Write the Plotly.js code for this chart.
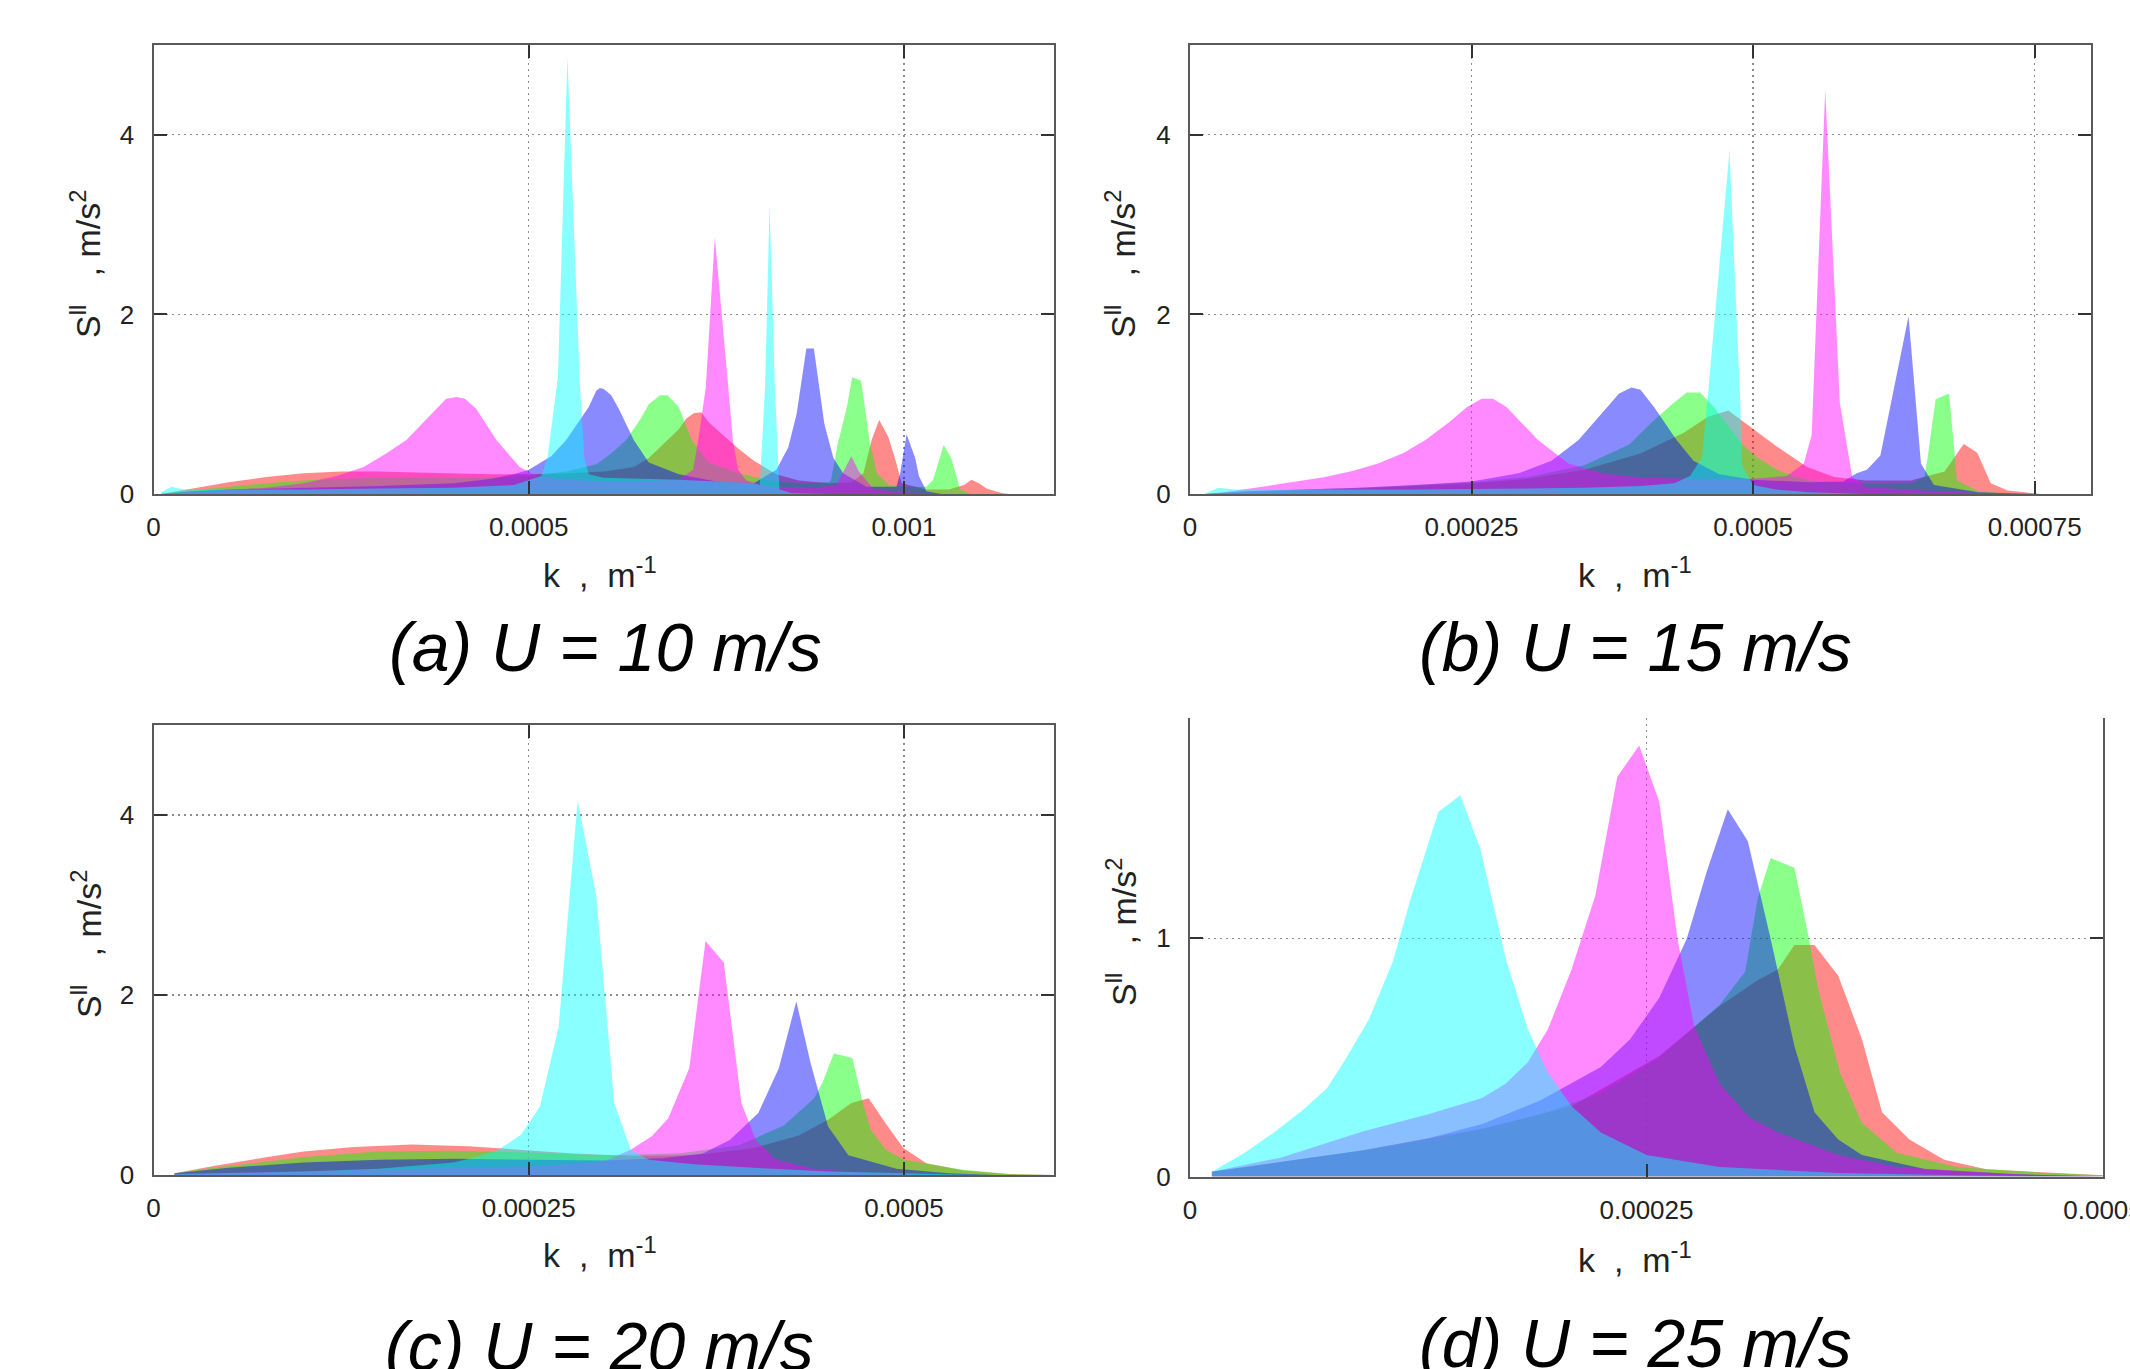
<!DOCTYPE html>
<html><head><meta charset="utf-8">
<script src="https://cdn.plot.ly/plotly-3.0.1.min.js"></script>
<style>html,body{margin:0;padding:0;background:#fff}#chart{width:2130px;height:1369px}</style>
</head><body><div id="chart"></div>
<script>
// ---------------- Panel (a): U = 10 m/s ----------------
const kA_red = [0.00001,0.00005,0.0001,0.00015,0.0002,0.00025,0.0003,0.00035,0.0004,0.00045,0.0005,0.00055,0.0006,0.00064,0.00066,0.00068,0.0007,0.00071,0.00072,0.00073,0.00074,0.00076,0.00078,0.0008,0.00083,0.00086,0.0009,0.00093,0.000946,0.000957,0.000967,0.000979,0.000988,0.000997,0.00103,0.00106,0.00108,0.00109,0.0011,0.00111,0.00113,0.00114];
const sA_red = [0,0.06,0.13,0.19,0.23,0.25,0.25,0.24,0.23,0.22,0.22,0.23,0.25,0.3,0.4,0.56,0.72,0.84,0.9,0.91,0.8,0.65,0.5,0.37,0.22,0.15,0.12,0.13,0.23,0.6,0.825,0.64,0.4,0.12,0.05,0.05,0.1,0.16,0.12,0.06,0.01,0];
const kA_green = [0.00001,0.00005,0.0001,0.00015,0.0002,0.00025,0.0003,0.00035,0.0004,0.00045,0.0005,0.00055,0.00059,0.00061,0.00063,0.00065,0.00066,0.000675,0.000685,0.0007,0.000717,0.00074,0.00078,0.00082,0.00086,0.0009,0.000903,0.000911,0.000924,0.000931,0.000943,0.000948,0.000954,0.000964,0.00098,0.001,0.00103,0.001039,0.001053,0.001063,0.001075,0.00109];
const sA_green = [0,0.04,0.08,0.12,0.15,0.17,0.18,0.18,0.18,0.18,0.2,0.25,0.33,0.45,0.6,0.85,1.0,1.1,1.1,0.97,0.6,0.35,0.23,0.15,0.12,0.13,0.16,0.53,0.97,1.3,1.26,0.97,0.6,0.23,0.1,0.08,0.08,0.16,0.546,0.4,0.05,0];
const kA_blue = [0.00001,0.00005,0.0001,0.0002,0.0003,0.0004,0.00045,0.00048,0.0005,0.00053,0.00055,0.00058,0.00059,0.000595,0.0006,0.00061,0.00062,0.00064,0.00066,0.0007,0.00075,0.0008,0.00083,0.000846,0.000857,0.00087,0.00088,0.000894,0.000906,0.000919,0.00095,0.00099,0.000995,0.0010036,0.001015,0.00102,0.00103,0.00105];
const sA_blue = [0,0.03,0.05,0.07,0.09,0.12,0.17,0.22,0.27,0.42,0.6,0.97,1.15,1.18,1.17,1.1,0.95,0.6,0.35,0.22,0.14,0.12,0.27,0.52,0.89,1.62,1.62,0.78,0.4,0.23,0.08,0.08,0.23,0.665,0.4,0.2,0.03,0];
const kA_magenta = [0.00001,0.00005,0.0001,0.00015,0.0002,0.000244,0.00028,0.00031,0.000337,0.00036,0.00038,0.00039,0.000404,0.000415,0.00043,0.000457,0.000488,0.00051,0.00055,0.0006,0.00065,0.0007,0.000719,0.000726,0.000736,0.000748,0.000766,0.000772,0.000779,0.00079,0.00082,0.00088,0.00091,0.00093,0.00094,0.00096,0.001,0.00105];
const sA_magenta = [0,0.02,0.04,0.07,0.12,0.2,0.3,0.45,0.6,0.8,0.97,1.06,1.08,1.06,0.95,0.6,0.3,0.2,0.16,0.14,0.14,0.16,0.27,0.6,1.19,2.86,1.19,0.6,0.27,0.15,0.08,0.07,0.1,0.42,0.25,0.05,0.02,0];
const kA_cyan = [0.00001,0.000024,0.00004,0.0001,0.0002,0.0003,0.0004,0.00048,0.0005,0.000517,0.000525,0.000539,0.0005516,0.000568,0.000574,0.00058,0.0006,0.00065,0.0007,0.00075,0.0008,0.000808,0.000815,0.000821,0.000828,0.000834,0.00085,0.0009];
const sA_cyan = [0.02,0.08,0.05,0.05,0.05,0.06,0.07,0.1,0.15,0.2,0.4,1.31,4.87,1.25,0.4,0.22,0.18,0.17,0.16,0.14,0.12,0.1,1.2,3.22,1.2,0.05,0.01,0];

// ---------------- Panel (b): U = 15 m/s ----------------
const kB_red = [0.000013,0.00005,0.0001,0.00015,0.0002,0.00025,0.0003,0.00035,0.0004,0.000438,0.00046,0.000478,0.000492,0.000521,0.000548,0.000572,0.0006,0.00064,0.00067,0.000678,0.000687,0.000699,0.000711,0.000726,0.000755];
const sB_red = [0,0.02,0.04,0.06,0.09,0.12,0.17,0.27,0.45,0.68,0.86,0.93,0.8,0.53,0.3,0.19,0.15,0.15,0.25,0.4,0.557,0.46,0.12,0.04,0];
const kB_green = [0.000013,0.00005,0.0001,0.00015,0.0002,0.00025,0.0003,0.00035,0.00039,0.00041,0.000428,0.000441,0.000453,0.000465,0.00048,0.00049,0.000503,0.000524,0.00055,0.0006,0.00064,0.000652,0.000655,0.000662,0.000674,0.000681,0.0007,0.00073];
const sB_green = [0,0.03,0.05,0.07,0.1,0.13,0.19,0.32,0.55,0.8,1.0,1.13,1.13,0.97,0.72,0.56,0.41,0.25,0.15,0.11,0.12,0.19,0.41,1.056,1.12,0.15,0.03,0];
const kB_blue = [0.000013,0.00005,0.0001,0.00015,0.0002,0.00025,0.000292,0.000321,0.000345,0.000366,0.000381,0.000392,0.0004,0.000412,0.000432,0.000447,0.00047,0.0005,0.00055,0.00058,0.000592,0.000601,0.000613,0.000638,0.000643,0.000649,0.0006605,0.0007,0.00075];
const sB_blue = [0,0.03,0.05,0.07,0.1,0.14,0.23,0.37,0.6,0.9,1.12,1.185,1.16,0.97,0.6,0.37,0.22,0.16,0.13,0.14,0.23,0.27,0.43,1.98,1.19,0.34,0.1,0.02,0];
const kB_magenta = [0.000013,0.00003,0.000064,0.00009,0.00012,0.000145,0.000167,0.00019,0.000209,0.00023,0.000246,0.000259,0.000269,0.000281,0.000295,0.000309,0.000336,0.000366,0.0004,0.00045,0.0005,0.00053,0.000545,0.000552,0.000564,0.000577,0.000588,0.0006,0.00065,0.0007,0.00075];
const sB_magenta = [0,0.02,0.08,0.13,0.19,0.26,0.34,0.46,0.6,0.8,0.97,1.06,1.06,0.97,0.78,0.6,0.34,0.23,0.18,0.17,0.17,0.2,0.34,0.66,4.5,1.01,0.19,0.08,0.04,0.01,0];
const kB_cyan = [0.000013,0.000025,0.00004,0.0001,0.0002,0.0003,0.00035,0.0004,0.00043,0.000444,0.0004546,0.00046,0.000479,0.0004886,0.00049,0.0005,0.00052,0.00055,0.0006];
const sB_cyan = [0,0.07,0.05,0.05,0.05,0.06,0.07,0.09,0.12,0.2,0.41,1.12,3.82,1.01,0.32,0.1,0.05,0.02,0];

// ---------------- Panel (c): U = 20 m/s ----------------
const kC_red = [0.000014,0.00004,0.000076,0.0001,0.0001335,0.000172,0.00021,0.000249,0.00028,0.00032,0.00036,0.0004,0.00043,0.00045,0.000465,0.0004765,0.000488,0.0004996,0.000515,0.00054,0.00057,0.0006];
const sC_red = [0.02,0.1,0.2,0.26,0.31,0.34,0.32,0.28,0.24,0.21,0.22,0.3,0.44,0.62,0.8,0.854,0.57,0.3,0.13,0.05,0.01,0];
const kC_green = [0.000014,0.00004,0.000076,0.0001,0.00015,0.0002,0.00025,0.0003,0.00035,0.00039,0.00042,0.00044,0.0004456,0.0004533,0.0004657,0.0004726,0.000478,0.000488,0.0005,0.000538,0.00057,0.0006];
const sC_green = [0.02,0.08,0.15,0.2,0.26,0.27,0.25,0.22,0.24,0.33,0.55,0.85,1.02,1.35,1.30,0.8,0.5,0.28,0.17,0.06,0.01,0];
const kC_blue = [0.000014,0.00005,0.0001,0.00015,0.0002,0.00025,0.0003,0.00034,0.000366,0.000384,0.000403,0.0004167,0.0004283,0.0004379,0.0004495,0.000463,0.000495,0.00053,0.00056];
const sC_blue = [0.02,0.08,0.14,0.17,0.18,0.17,0.16,0.19,0.24,0.39,0.69,1.19,1.93,1.24,0.54,0.22,0.07,0.02,0];
const kC_magenta = [0.000014,0.0001,0.0002,0.00026,0.0003,0.000318,0.000332,0.000343,0.000357,0.0003678,0.00038,0.0003917,0.0004013,0.0004148,0.00044,0.00048,0.00052];
const sC_magenta = [0.01,0.04,0.08,0.1,0.15,0.28,0.43,0.63,1.19,2.60,2.36,0.80,0.39,0.17,0.07,0.02,0];
const kC_cyan = [0.000014,0.0001,0.00015,0.0002,0.000215,0.00023,0.000245,0.0002575,0.00027,0.0002826,0.000295,0.000307,0.000318,0.00033,0.00036,0.0004,0.00045,0.0005,0.00055];
const sC_cyan = [0.01,0.04,0.07,0.14,0.2,0.28,0.45,0.76,1.65,4.16,3.10,0.80,0.28,0.17,0.12,0.08,0.04,0.02,0];

// ---------------- Panel (d): U = 25 m/s ----------------
const kD_red = [0.000012,0.00005,0.000095,0.00013,0.00016,0.000209,0.000257,0.00029,0.00031,0.000322,0.000331,0.000342,0.000355,0.000368,0.000379,0.000394,0.000413,0.000436,0.000484,0.0005];
const sD_red = [0.02,0.06,0.11,0.16,0.2,0.295,0.506,0.716,0.82,0.87,0.972,0.972,0.843,0.576,0.27,0.155,0.07,0.03,0.01,0.005];
const kD_green = [0.000012,0.00005,0.000095,0.00013,0.00016,0.000192,0.000225,0.000257,0.00029,0.000304,0.000311,0.000318,0.000331,0.000339,0.000344,0.000356,0.000368,0.000387,0.00042,0.000468,0.0005];
const sD_green = [0.02,0.06,0.11,0.15,0.2,0.26,0.35,0.5,0.72,0.86,1.17,1.337,1.296,0.997,0.787,0.435,0.225,0.1,0.04,0.015,0.005];
const kD_blue = [0.000012,0.00005,0.000095,0.00013,0.00016,0.000192,0.000225,0.000241,0.000257,0.000272,0.000283,0.0002945,0.0003055,0.000318,0.000331,0.000342,0.000355,0.000368,0.000403,0.00045,0.0005];
const sD_blue = [0.02,0.06,0.11,0.16,0.22,0.32,0.46,0.576,0.75,0.997,1.28,1.542,1.407,0.997,0.548,0.27,0.155,0.09,0.03,0.01,0];
const kD_magenta = [0.000012,0.00005,0.000095,0.00013,0.00016,0.000173,0.000185,0.000196,0.000209,0.000222,0.000234,0.000246,0.000257,0.000267,0.000276,0.00029,0.000306,0.000322,0.000355,0.000387,0.00045,0.0005];
const sD_magenta = [0.02,0.08,0.19,0.26,0.33,0.39,0.48,0.618,0.87,1.18,1.678,1.809,1.573,0.997,0.633,0.39,0.25,0.185,0.09,0.04,0.01,0];
const kD_cyan = [0.000012,0.00003,0.000046,0.000062,0.000075,0.000085,0.000098,0.000111,0.000121,0.000136,0.000148,0.000159,0.000173,0.000185,0.000196,0.000209,0.000225,0.00025,0.00029,0.000355,0.00042,0.0005];
const sD_cyan = [0.02,0.1,0.185,0.28,0.37,0.49,0.66,0.9,1.17,1.53,1.60,1.376,0.913,0.618,0.435,0.295,0.185,0.09,0.04,0.015,0.005,0];

// tick values / labels
const xTicksA = [0, 0.0005, 0.001], xLabelsA = ['0', '0.0005', '0.001'];
const xTicksB = [0, 0.00025, 0.0005, 0.00075], xLabelsB = ['0', '0.00025', '0.0005', '0.00075'];
const xTicksC = [0, 0.00025, 0.0005], xLabelsC = ['0', '0.00025', '0.0005'];
const xTicksD = [0, 0.00025, 0.0005], xLabelsD = ['0', '0.00025', '0.0005'];
const yTicksABC = [0, 2, 4], yLabelsABC = ['0', '2', '4'];
const yTicksD = [0, 1], yLabelsD = ['0', '1'];
const panelTitles = ['(a) U = 10 m/s', '(b) U = 15 m/s', '(c) U = 20 m/s', '(d) U = 25 m/s'];

const FILLS = {
  red: 'rgba(255,0,0,0.46)', green: 'rgba(0,255,0,0.46)', blue: 'rgba(0,0,255,0.46)',
  magenta: 'rgba(255,0,255,0.46)', cyan: 'rgba(0,255,255,0.46)'
};
const ORDER = ['red', 'green', 'blue', 'magenta', 'cyan'];
const panels = [
  {ax: '', k: {red: kA_red, green: kA_green, blue: kA_blue, magenta: kA_magenta, cyan: kA_cyan},
          s: {red: sA_red, green: sA_green, blue: sA_blue, magenta: sA_magenta, cyan: sA_cyan}},
  {ax: '2', k: {red: kB_red, green: kB_green, blue: kB_blue, magenta: kB_magenta, cyan: kB_cyan},
          s: {red: sB_red, green: sB_green, blue: sB_blue, magenta: sB_magenta, cyan: sB_cyan}},
  {ax: '3', k: {red: kC_red, green: kC_green, blue: kC_blue, magenta: kC_magenta, cyan: kC_cyan},
          s: {red: sC_red, green: sC_green, blue: sC_blue, magenta: sC_magenta, cyan: sC_cyan}},
  {ax: '4', k: {red: kD_red, green: kD_green, blue: kD_blue, magenta: kD_magenta, cyan: kD_cyan},
          s: {red: sD_red, green: sD_green, blue: sD_blue, magenta: sD_magenta, cyan: sD_cyan}}
];

const traces = [];
panels.forEach(p => {
  ORDER.forEach(c => {
    traces.push({
      type: 'scatter', mode: 'lines', x: p.k[c], y: p.s[c],
      xaxis: 'x' + p.ax, yaxis: 'y' + p.ax,
      fill: 'tozeroy', fillcolor: FILLS[c],
      line: {width: 0, color: FILLS[c]}, hoverinfo: 'skip', showlegend: false
    });
  });
});

const W = 2130, H = 1369;
const px = v => v / W, py = v => 1 - v / H;
const tickFont = {family: 'Liberation Sans, Arial, sans-serif', size: 26, color: '#222'};

function xAxis(domain, range, tv, tt, anchor, mirror) {
  return {domain, range, anchor, tickmode: 'array', tickvals: tv, ticktext: tt,
    showgrid: true, gridcolor: '#8c8c8c', gridwidth: 1.3, griddash: '2px,4px',
    showline: true, linecolor: '#5a5a5a', linewidth: 2, mirror,
    ticks: 'inside', ticklen: 13, tickwidth: 2, tickcolor: '#333',
    zeroline: false, tickfont: tickFont, ticklabelstandoff: 9,
    ticklabeloverflow: 'allow', fixedrange: true};
}
function yAxis(domain, range, tv, tt, anchor) {
  return {domain, range, anchor, tickmode: 'array', tickvals: tv, ticktext: tt,
    showgrid: true, gridcolor: '#8c8c8c', gridwidth: 1.3, griddash: '2px,4px',
    showline: true, linecolor: '#5a5a5a', linewidth: 2, mirror: 'ticks',
    ticks: 'inside', ticklen: 13, tickwidth: 2, tickcolor: '#333',
    zeroline: false, tickfont: tickFont, ticklabelstandoff: 12,
    ticklabeloverflow: 'allow', fixedrange: true};
}

const dxL = [px(153.5), px(1054)], dxR = [px(1190), px(2091)], dxR4 = [px(1190), px(2103)];
const dyT = [py(494), py(45)], dyB = [py(1175), py(725)], dyB4 = [py(1176.5), py(718.4)];

const NB = '\u00a0';
const xTitle = 'k' + NB + NB + ',' + NB + NB + 'm<sup>-1</sup>';
const yTitle = 'S<sup>ll</sup>' + NB + NB + NB + ',' + NB + 'm/s<sup>2</sup>';
const labFont = {family: 'Liberation Sans, Arial, sans-serif', size: 34, color: '#222'};
const titleFont = {family: 'Liberation Sans, Arial, sans-serif', size: 68, color: '#000'};

function ann(text, x, y, font, angle) {
  return {text, x: px(x), y: py(y), xref: 'paper', yref: 'paper', showarrow: false,
    xanchor: 'center', yanchor: 'middle', font, textangle: angle || 0};
}

const annotations = [
  ann(xTitle, 600, 572, labFont), ann(xTitle, 1635, 572, labFont),
  ann(xTitle, 600, 1252, labFont), ann(xTitle, 1635, 1257, labFont),
  ann(yTitle, 86, 264, labFont, -90), ann(yTitle, 1121, 264, labFont, -90),
  ann(yTitle, 86, 944, labFont, -90), ann(yTitle, 1121, 932, labFont, -90),
  ann('<i>' + panelTitles[0] + '</i>', 605, 647, titleFont),
  ann('<i>' + panelTitles[1] + '</i>', 1635, 647, titleFont),
  ann('<i>' + panelTitles[2] + '</i>', 599, 1346, titleFont),
  ann('<i>' + panelTitles[3] + '</i>', 1635, 1343, titleFont)
];

const layout = {
  width: W, height: H, margin: {l: 0, r: 0, t: 0, b: 0},
  paper_bgcolor: '#fff', plot_bgcolor: '#fff', showlegend: false,
  xaxis: xAxis(dxL, [0, 0.0012], xTicksA, xLabelsA, 'y', 'ticks'),
  yaxis: yAxis(dyT, [0, 5], yTicksABC, yLabelsABC, 'x'),
  xaxis2: xAxis(dxR, [0, 0.0008], xTicksB, xLabelsB, 'y2', 'ticks'),
  yaxis2: yAxis(dyT, [0, 5], yTicksABC, yLabelsABC, 'x2'),
  xaxis3: xAxis(dxL, [0, 0.0006], xTicksC, xLabelsC, 'y3', 'ticks'),
  yaxis3: yAxis(dyB, [0, 5], yTicksABC, yLabelsABC, 'x3'),
  xaxis4: xAxis(dxR4, [0, 0.0005], xTicksD, xLabelsD, 'y4', false),
  yaxis4: yAxis(dyB4, [0, 1.923], yTicksD, yLabelsD, 'x4'),
  annotations
};

Plotly.newPlot('chart', traces, layout, {staticPlot: true, displayModeBar: false});
</script>
</body></html>
